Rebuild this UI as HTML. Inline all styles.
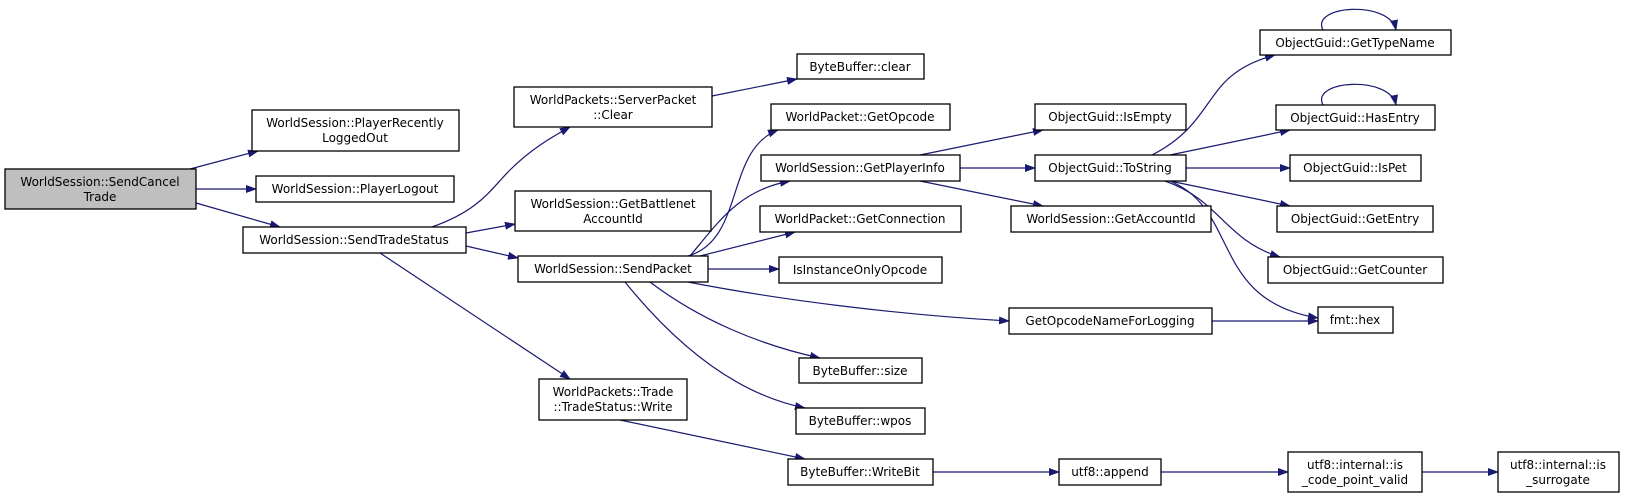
<!DOCTYPE html>
<html><head><meta charset="utf-8"><style>
html,body{margin:0;padding:0;background:#fff;}
svg{display:block;}
text{font-family:"DejaVu Sans","Liberation Sans",sans-serif;font-size:12px;fill:#000;}
.n{fill:#fff;stroke:#000;stroke-width:1.3;}
.e{fill:none;stroke:#191970;stroke-width:1.2;}
</style></head><body>
<svg width="1625" height="498" viewBox="0 0 1625 498" xmlns="http://www.w3.org/2000/svg">
<defs><marker id="a" markerWidth="11" markerHeight="8" refX="10" refY="4" orient="auto" markerUnits="userSpaceOnUse"><path d="M0,0 L11,4 L0,8 z" fill="#191970"/></marker></defs>
<g class="e" marker-end="url(#a)">
<path d="M190,169 L258,151" marker-end="url(#a)"/>
<path d="M196,189 L256,189" marker-end="url(#a)"/>
<path d="M196,203 L280,227" marker-end="url(#a)"/>
<path d="M432,227 C480,210 490,190 510,170 C530,150 550,138 570,127" marker-end="url(#a)"/>
<path d="M466,233 L515,224" marker-end="url(#a)"/>
<path d="M466,246 L518,258" marker-end="url(#a)"/>
<path d="M380,253 L570,379" marker-end="url(#a)"/>
<path d="M712,96 L797,79" marker-end="url(#a)"/>
<path d="M688,256 C745,240 725,150 778,130" marker-end="url(#a)"/>
<path d="M690,256 C720,220 740,190 790,181" marker-end="url(#a)"/>
<path d="M700,256 L795,232" marker-end="url(#a)"/>
<path d="M708,269 L779,269" marker-end="url(#a)"/>
<path d="M688,282 C780,300 900,315 1009,321" marker-end="url(#a)"/>
<path d="M650,282 C700,320 760,345 820,358" marker-end="url(#a)"/>
<path d="M625,282 C680,350 740,395 805,408" marker-end="url(#a)"/>
<path d="M620,420 L805,459" marker-end="url(#a)"/>
<path d="M920,155 L1043,130" marker-end="url(#a)"/>
<path d="M960,168 L1035,168" marker-end="url(#a)"/>
<path d="M920,181 L1043,206" marker-end="url(#a)"/>
<path d="M1152,155 C1220,120 1200,75 1275,55" marker-end="url(#a)"/>
<path d="M1170,155 L1290,130" marker-end="url(#a)"/>
<path d="M1186,168 L1290,168" marker-end="url(#a)"/>
<path d="M1170,181 L1290,206" marker-end="url(#a)"/>
<path d="M1165,181 C1220,200 1225,240 1280,257" marker-end="url(#a)"/>
<path d="M1170,181 C1240,210 1210,300 1318,318" marker-end="url(#a)"/>
<path d="M1212,321 L1318,321" marker-end="url(#a)"/>
<path d="M1323,30 C1310,5 1390,0 1396,30" marker-end="url(#a)"/>
<path d="M1323,105 C1310,80 1390,75 1396,105" marker-end="url(#a)"/>
<path d="M933,472 L1059,472" marker-end="url(#a)"/>
<path d="M1161,472 L1288,472" marker-end="url(#a)"/>
<path d="M1422,472 L1498,472" marker-end="url(#a)"/>
</g>
<g>
<rect x="5" y="169" width="191" height="40" fill="#bfbfbf" stroke="#000" stroke-width="1.3"/>
<text x="100" y="186" text-anchor="middle">WorldSession::SendCancel</text><text x="100" y="201" text-anchor="middle">Trade</text>
<rect class="n" x="252" y="110" width="207" height="41"/><text x="355" y="127" text-anchor="middle">WorldSession::PlayerRecently</text><text x="355" y="142" text-anchor="middle">LoggedOut</text>
<rect class="n" x="256" y="176" width="198" height="26"/><text x="355" y="193" text-anchor="middle">WorldSession::PlayerLogout</text>
<rect class="n" x="243" y="227" width="223" height="26"/><text x="354" y="244" text-anchor="middle">WorldSession::SendTradeStatus</text>
<rect class="n" x="514" y="87" width="198" height="40"/><text x="613" y="104" text-anchor="middle">WorldPackets::ServerPacket</text><text x="613" y="119" text-anchor="middle">::Clear</text>
<rect class="n" x="515" y="191" width="196" height="40"/><text x="613" y="208" text-anchor="middle">WorldSession::GetBattlenet</text><text x="613" y="223" text-anchor="middle">AccountId</text>
<rect class="n" x="518" y="256" width="190" height="26"/><text x="613" y="273" text-anchor="middle">WorldSession::SendPacket</text>
<rect class="n" x="539" y="379" width="148" height="41"/><text x="613" y="396" text-anchor="middle">WorldPackets::Trade</text><text x="613" y="411" text-anchor="middle">::TradeStatus::Write</text>
<rect class="n" x="797" y="54" width="127" height="25"/><text x="860" y="71" text-anchor="middle">ByteBuffer::clear</text>
<rect class="n" x="771" y="104" width="179" height="26"/><text x="860" y="121" text-anchor="middle">WorldPacket::GetOpcode</text>
<rect class="n" x="761" y="155" width="199" height="26"/><text x="860" y="172" text-anchor="middle">WorldSession::GetPlayerInfo</text>
<rect class="n" x="760" y="206" width="201" height="26"/><text x="860" y="223" text-anchor="middle">WorldPacket::GetConnection</text>
<rect class="n" x="779" y="257" width="163" height="26"/><text x="860" y="274" text-anchor="middle">IsInstanceOnlyOpcode</text>
<rect class="n" x="799" y="358" width="123" height="25"/><text x="860" y="375" text-anchor="middle">ByteBuffer::size</text>
<rect class="n" x="796" y="408" width="129" height="26"/><text x="860" y="425" text-anchor="middle">ByteBuffer::wpos</text>
<rect class="n" x="788" y="459" width="145" height="26"/><text x="860" y="476" text-anchor="middle">ByteBuffer::WriteBit</text>
<rect class="n" x="1035" y="104" width="151" height="26"/><text x="1110" y="121" text-anchor="middle">ObjectGuid::IsEmpty</text>
<rect class="n" x="1035" y="155" width="151" height="26"/><text x="1110" y="172" text-anchor="middle">ObjectGuid::ToString</text>
<rect class="n" x="1011" y="206" width="200" height="26"/><text x="1111" y="223" text-anchor="middle">WorldSession::GetAccountId</text>
<rect class="n" x="1009" y="308" width="203" height="26"/><text x="1110" y="325" text-anchor="middle">GetOpcodeNameForLogging</text>
<rect class="n" x="1059" y="459" width="102" height="26"/><text x="1110" y="476" text-anchor="middle">utf8::append</text>
<rect class="n" x="1260" y="30" width="191" height="25"/><text x="1355" y="47" text-anchor="middle">ObjectGuid::GetTypeName</text>
<rect class="n" x="1276" y="105" width="159" height="25"/><text x="1355" y="122" text-anchor="middle">ObjectGuid::HasEntry</text>
<rect class="n" x="1290" y="155" width="131" height="26"/><text x="1355" y="172" text-anchor="middle">ObjectGuid::IsPet</text>
<rect class="n" x="1277" y="206" width="156" height="26"/><text x="1355" y="223" text-anchor="middle">ObjectGuid::GetEntry</text>
<rect class="n" x="1268" y="257" width="175" height="26"/><text x="1355" y="274" text-anchor="middle">ObjectGuid::GetCounter</text>
<rect class="n" x="1318" y="307" width="75" height="26"/><text x="1355" y="324" text-anchor="middle">fmt::hex</text>
<rect class="n" x="1288" y="452" width="134" height="40"/><text x="1355" y="469" text-anchor="middle">utf8::internal::is</text><text x="1355" y="484" text-anchor="middle">_code_point_valid</text>
<rect class="n" x="1498" y="452" width="121" height="40"/><text x="1558" y="469" text-anchor="middle">utf8::internal::is</text><text x="1558" y="484" text-anchor="middle">_surrogate</text>
</g>
</svg>
</body></html>
